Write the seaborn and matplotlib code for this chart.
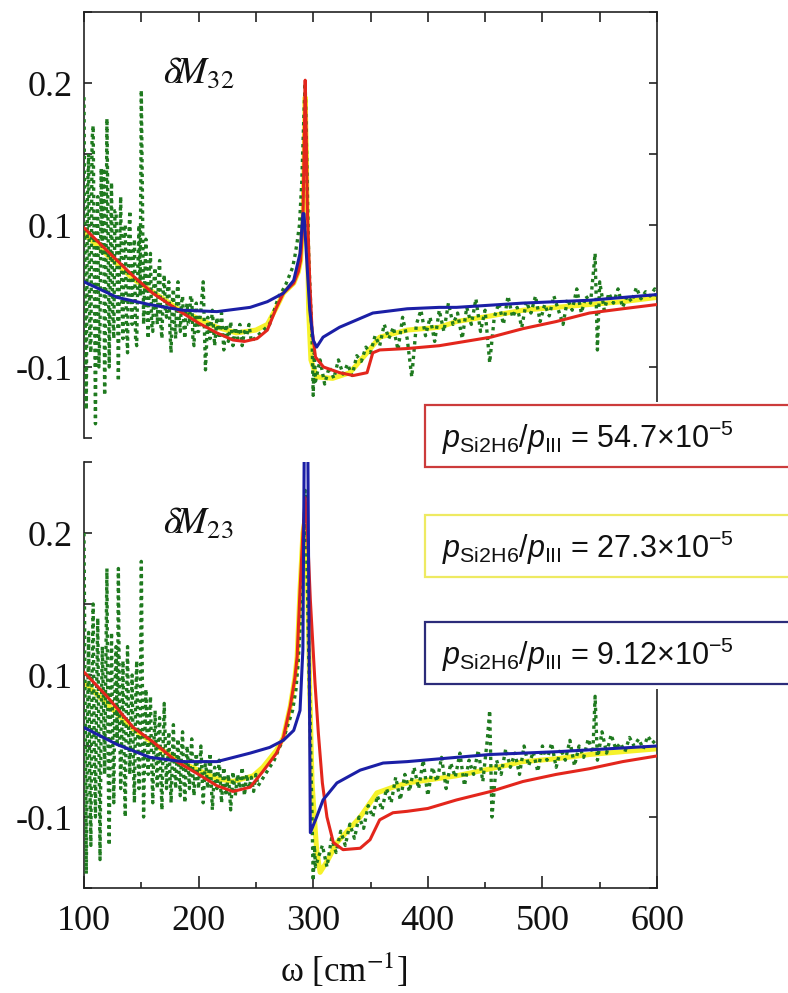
import numpy as np
import pandas as pd
import matplotlib
matplotlib.use("Agg")
import matplotlib.pyplot as plt
import seaborn as sns
from matplotlib.patches import Rectangle
from matplotlib.ticker import FixedLocator, FixedFormatter, MultipleLocator, NullFormatter

# ---------------- data ----------------
# top panel  (dM32)
red_top_x = [100, 120, 143, 160, 184, 200, 216, 230, 240, 251, 260, 268, 274, 283, 287, 289, 291, 292, 293, 294, 295, 297, 299, 302, 309, 323, 335, 347, 352, 358, 382, 410, 425, 455, 483, 512, 541, 570, 600]
red_top_y = [0.098, 0.082, 0.064, 0.052, 0.039, 0.031, 0.024, 0.019, 0.018, 0.020, 0.026, 0.042, 0.052, 0.059, 0.067, 0.075, 0.100, 0.150, 0.202, 0.160, 0.108, 0.060, 0.026, 0.007, 0.000, -0.004, -0.006, -0.004, 0.010, 0.012, 0.013, 0.015, 0.017, 0.021, 0.027, 0.032, 0.038, 0.041, 0.044]

yel_top_x = [100, 143, 184, 216, 233, 250, 260, 268, 274, 283, 287, 289, 291, 292, 293, 294, 295, 296, 298, 303, 317, 332, 347, 358, 382, 410, 425, 455, 483, 512, 541, 570, 600]
yel_top_y = [0.094, 0.062, 0.040, 0.028, 0.024, 0.026, 0.030, 0.042, 0.052, 0.059, 0.067, 0.075, 0.100, 0.140, 0.190, 0.150, 0.090, 0.040, 0.005, -0.007, -0.008, -0.004, 0.010, 0.021, 0.026, 0.028, 0.032, 0.036, 0.040, 0.042, 0.044, 0.046, 0.049]

blu_top_x = [100, 129, 157, 186, 216, 245, 260, 274, 283, 288.5, 291, 292, 294, 297, 300, 303, 308.6, 323, 352, 382, 410, 425, 483, 541, 600]
blu_top_y = [0.060, 0.049, 0.044, 0.040, 0.039, 0.042, 0.046, 0.052, 0.061, 0.080, 0.108, 0.108, 0.080, 0.040, 0.019, 0.014, 0.021, 0.028, 0.038, 0.041, 0.042, 0.042, 0.045, 0.047, 0.051]

grn_top_x = list(range(100, 200)) + [
             200, 202, 204, 206, 208, 210, 212, 214, 216, 218,
             220, 222, 224, 226, 228, 230, 232, 234, 236, 238, 240, 242, 244, 246,
             262, 264, 266, 268, 270, 272, 274, 276, 278, 280, 282, 284, 286, 288, 290, 292, 293, 294, 295, 296,
             297, 298, 299, 300, 301,
             302, 306, 310, 314, 318, 322, 326, 330, 334, 338, 342, 346, 350, 354, 358, 362, 366, 370, 374, 378,
             382, 386, 390, 394, 398, 402, 406, 410, 414, 418, 422, 426, 430, 434, 438, 442, 446, 450, 454, 458,
             462, 466, 470, 474, 478, 482, 486, 490, 494, 498, 502, 506, 510, 514, 518, 522, 526, 530, 534, 538,
             542, 546, 548, 550, 554, 558, 562, 566, 570, 574, 578, 582, 586, 590, 594, 598, 600]
grn_top_y = [0.190, 0.050, -0.030, 0.120, 0.150, 0.020, 0.010, 0.160, 0.170, 0.060,
             -0.040, 0.090, 0.120, 0.000, 0.030, 0.140, 0.080, 0.140, -0.020, 0.050,
             0.175, 0.100, 0.000, 0.070, 0.130, 0.040, 0.020, 0.110, 0.110, 0.060,
             -0.010, 0.080, 0.120, 0.050, 0.020, 0.100, 0.100, 0.030, 0.010, 0.090,
             0.110, 0.060, 0.030, 0.080, 0.090, 0.020, 0.015, 0.070, 0.100, 0.050,
             0.195, 0.120, 0.030, 0.060, 0.090, 0.040, 0.020, 0.070, 0.080, 0.030,
             0.025, 0.060, 0.070, 0.040, 0.030, 0.065, 0.075, 0.030, 0.020, 0.050,
             0.065, 0.040, 0.035, 0.055, 0.060, 0.025, 0.010, 0.045, 0.055, 0.030,
             0.020, 0.050, 0.060, 0.035, 0.025, 0.045, 0.050, 0.030, 0.020, 0.040,
             0.045, 0.030, 0.030, 0.050, 0.050, 0.020, 0.015, 0.040, 0.045, 0.025,
             0.025, 0.040, 0.060, -0.002, 0.035, 0.020, 0.040, 0.015, 0.035, 0.020,
             0.038, 0.012, 0.030, 0.018, 0.032, 0.015, 0.028, 0.020, 0.030, 0.015, 0.025, 0.022, 0.030, 0.018,
             0.030, 0.036, 0.040, 0.045, 0.050, 0.052, 0.055, 0.058, 0.062, 0.066, 0.070, 0.078, 0.088, 0.100, 0.130, 0.180, 0.200, 0.160, 0.120, 0.080,
             0.060, 0.040, 0.020, -0.020, 0.010,
             -0.010, 0.005, -0.012, 0.000, -0.008, 0.005, -0.005, 0.002, -0.006, 0.008, 0.004, 0.014, 0.010, 0.022, 0.015, 0.030, 0.020, 0.028, 0.012, 0.035,
             0.020, -0.007, 0.030, 0.040, 0.022, 0.035, 0.018, 0.040, 0.025, 0.045, 0.030, 0.038, 0.020, 0.042, 0.030, 0.048, 0.025, 0.040, 0.003, 0.035,
             0.045, 0.030, 0.050, 0.035, 0.042, 0.028, 0.046, 0.038, 0.050, 0.032, 0.044, 0.036, 0.050, 0.040, 0.030, 0.048, 0.040, 0.055, 0.038, 0.050,
             0.045, 0.080, 0.012, 0.060, 0.040, 0.052, 0.045, 0.055, 0.042, 0.050, 0.046, 0.056, 0.048, 0.053, 0.050, 0.055, 0.048]

# bottom panel (dM23)
red_bot_x = [100, 120, 143, 160, 181, 200, 216, 230, 245, 256, 268, 274, 280, 284, 286, 288.5, 291, 293, 295, 297.5, 301.6, 304.5, 308, 312, 317.6, 326, 341, 349.6, 358, 369.6, 382, 400, 425, 455, 483, 512, 541, 570, 600]
red_bot_y = [0.102, 0.085, 0.063, 0.053, 0.039, 0.030, 0.022, 0.018, 0.021, 0.032, 0.045, 0.056, 0.078, 0.098, 0.113, 0.160, 0.200, 0.225, 0.200, 0.153, 0.094, 0.059, 0.024, 0.000, -0.018, -0.023, -0.022, -0.016, -0.002, 0.003, 0.004, 0.006, 0.012, 0.018, 0.025, 0.030, 0.034, 0.039, 0.043]

yel_bot_x = [100, 143, 181, 216, 230, 247.6, 256, 268, 274, 280, 284, 286, 288.5, 291, 293, 295, 297, 299, 303, 306, 313, 320.7, 341, 355.6, 369.6, 382, 400, 425, 455, 483, 512, 541, 570, 600]
yel_bot_y = [0.095, 0.062, 0.040, 0.027, 0.025, 0.029, 0.035, 0.047, 0.056, 0.078, 0.098, 0.113, 0.160, 0.200, 0.210, 0.170, 0.090, 0.024, -0.023, -0.039, -0.030, -0.018, 0.000, 0.017, 0.021, 0.024, 0.026, 0.029, 0.034, 0.039, 0.041, 0.044, 0.046, 0.048]

blu_bot_x = [100, 129, 157.6, 186, 216, 245, 262, 274, 283, 288.5, 291, 292.5, 295, 297.5, 303, 308.6, 320.7, 341, 361, 382, 425, 454, 513, 600]
blu_bot_y = [0.063, 0.051, 0.042, 0.039, 0.039, 0.045, 0.049, 0.054, 0.061, 0.075, 0.118, 0.300, 0.300, -0.011, 0.000, 0.012, 0.024, 0.033, 0.038, 0.039, 0.042, 0.044, 0.046, 0.050]

grn_bot_x = list(range(100, 200)) + [
             200, 202, 204, 206, 208, 210, 212, 214, 216, 218,
             220, 222, 224, 226, 228, 230, 232, 234, 236, 238, 240, 242, 244, 246, 248, 250, 252,
             262, 266, 270, 274, 278, 282, 285, 287, 289, 291, 292, 293, 294, 295, 296, 297, 298, 299, 300, 301, 302,
             304, 308, 312, 316, 320, 324, 328, 332, 336, 340, 344, 348, 352, 356, 360, 364, 368, 372, 376, 380,
             384, 388, 392, 396, 400, 404, 408, 412, 416, 420, 424, 428, 432, 436, 440, 444, 448, 452, 454, 456,
             460, 464, 468, 472, 476, 480, 484, 488, 492, 496, 500, 504, 508, 512, 516, 520, 524, 528, 532, 536,
             540, 544, 546, 548, 552, 556, 560, 564, 568, 572, 576, 580, 584, 588, 592, 596, 600]
grn_bot_y = [0.200, 0.080, -0.040, 0.060, 0.130, 0.030, -0.020, 0.100, 0.150, 0.040,
             0.000, 0.090, 0.140, 0.050, -0.030, 0.070, 0.120, 0.080, 0.030, 0.100,
             0.175, 0.040, -0.020, 0.080, 0.130, 0.060, 0.010, 0.090, 0.120, 0.050,
             0.175, 0.070, 0.020, 0.060, 0.110, 0.040, 0.000, 0.080, 0.120, 0.060,
             0.030, 0.070, 0.100, 0.040, 0.010, 0.080, 0.110, 0.050, 0.020, 0.060,
             0.180, 0.090, 0.000, 0.050, 0.090, 0.060, 0.030, 0.070, 0.085, 0.040,
             0.010, 0.050, 0.075, 0.040, 0.020, 0.060, 0.070, 0.030, 0.005, 0.050,
             0.080, 0.050, 0.020, 0.040, 0.060, 0.030, 0.010, 0.040, 0.065, 0.035,
             0.020, 0.040, 0.055, 0.030, 0.015, 0.045, 0.060, 0.030, 0.010, 0.035,
             0.050, 0.035, 0.020, 0.040, 0.055, 0.030, 0.015, 0.035, 0.045, 0.030,
             0.020, 0.050, 0.010, 0.040, 0.020, 0.045, 0.005, 0.035, 0.020, 0.040,
             0.010, 0.035, 0.015, 0.030, 0.005, 0.032, 0.015, 0.030, 0.020, 0.035, 0.015, 0.030, 0.020, 0.028, 0.018, 0.030, 0.022,
             0.035, 0.040, 0.048, 0.055, 0.065, 0.075, 0.090, 0.110, 0.140, 0.180, 0.200, 0.230, 0.200, 0.160, 0.120, 0.080, 0.040, 0.000, -0.045, -0.020, -0.035,
             -0.030, -0.020, -0.035, -0.015, -0.025, -0.010, -0.020, -0.005, -0.015, 0.000, -0.008, 0.008, 0.000, 0.015, 0.005, 0.020, 0.010, 0.028, 0.012, 0.030,
             0.018, 0.035, 0.020, 0.040, 0.015, 0.035, 0.025, 0.042, 0.020, 0.038, 0.028, 0.045, 0.022, 0.040, 0.030, 0.047, 0.025, 0.055, 0.075, 0.000,
             0.040, 0.030, 0.048, 0.035, 0.045, 0.030, 0.050, 0.036, 0.046, 0.032, 0.050, 0.040, 0.052, 0.035, 0.048, 0.040, 0.054, 0.036, 0.050, 0.042,
             0.055, 0.045, 0.085, 0.040, 0.060, 0.045, 0.058, 0.048, 0.052, 0.046, 0.056, 0.050, 0.055, 0.048, 0.057, 0.052, 0.055]

panel_labels = [r"$\delta\!M_{\mathit{32}}$", r"$\delta\!M_{\mathit{23}}$"]
legend_values = ["54.7", "27.3", "9.12"]
x_major = [100, 200, 300, 400, 500, 600]
y_ticks = [-0.05, 0.0, 0.05, 0.10, 0.15, 0.20, 0.25]
y_tick_labels = ["", "-0.1", "", "0.1", "", "0.2", ""]

# ---------------- styling ----------------
sns.set_theme(style="white")
plt.rcParams["font.family"] = ["Liberation Serif", "DejaVu Serif"]
plt.rcParams["mathtext.fontset"] = "custom"
plt.rcParams["mathtext.rm"] = "Liberation Sans"
plt.rcParams["mathtext.it"] = "Liberation Sans:italic"
plt.rcParams["mathtext.bf"] = "Liberation Sans:bold"

C_RED = "#e3261c"
C_YEL = "#f6f22a"
C_BLU = "#1b1fa6"
C_GRN = "#1f7a1f"

W, H = 788, 993
fig = plt.figure(figsize=(W / 100, H / 100), dpi=100)
fig.patch.set_facecolor("white")

def fx(px):
    return px / W

def fy(py):
    return 1 - py / H

ax_top = fig.add_axes([fx(84), fy(438), fx(657) - fx(84), (438 - 12) / H])
ax_bot = fig.add_axes([fx(84), fy(888), fx(657) - fx(84), (888 - 462) / H])

panels = [
    (ax_top, red_top_x, red_top_y, yel_top_x, yel_top_y, blu_top_x, blu_top_y, grn_top_x, grn_top_y),
    (ax_bot, red_bot_x, red_bot_y, yel_bot_x, yel_bot_y, blu_bot_x, blu_bot_y, grn_bot_x, grn_bot_y),
]

for i, (ax, rx, ry, yx, yy, bx, by, gx, gy) in enumerate(panels):
    ax.set_facecolor("white")
    sns.lineplot(x=yx, y=yy, ax=ax, color=C_YEL, lw=3.6, sort=False, estimator=None, zorder=2)
    g = sns.lineplot(x=gx, y=gy, ax=ax, color=C_GRN, lw=2.4, sort=False, estimator=None, zorder=3)
    g.lines[-1].set_linestyle((0, (1, 1.2)))
    g.lines[-1].set_dash_capstyle("butt")
    sns.lineplot(x=rx, y=ry, ax=ax, color=C_RED, lw=2.2, sort=False, estimator=None, zorder=4)
    sns.lineplot(x=bx, y=by, ax=ax, color=C_BLU, lw=2.2, sort=False, estimator=None, zorder=5)

    ax.set_xlim(100, 600)
    ax.set_ylim(-0.05, 0.25)
    ax.set_xlabel("")
    ax.set_ylabel("")
    for s in ax.spines.values():
        s.set_color("#222222")
        s.set_linewidth(1.2)

    ax.yaxis.set_major_locator(FixedLocator(y_ticks))
    ax.yaxis.set_major_formatter(FixedFormatter(y_tick_labels))
    ax.tick_params(axis="y", which="major", direction="in", left=True, right=True,
                   length=6, width=1.2, color="#222222", labelsize=26, pad=8, labelcolor="#111111")

    ax.text(169, 0.2, panel_labels[i], fontsize=27, math_fontfamily="stix",
            ha="left", va="baseline", color="#111111", zorder=6)

# top panel: no bottom spine, ticks on top
ax_top.spines["bottom"].set_visible(False)
ax_top.xaxis.set_major_locator(MultipleLocator(50))
ax_top.xaxis.set_major_formatter(NullFormatter())
ax_top.tick_params(axis="x", which="major", direction="in", top=True, bottom=False,
                   labeltop=False, labelbottom=False, length=7, width=1.2, color="#222222")

# bottom panel: no top spine, labelled bottom ticks
ax_bot.spines["top"].set_visible(False)
ax_bot.xaxis.set_major_locator(FixedLocator(x_major))
ax_bot.xaxis.set_major_formatter(FixedFormatter([str(v) for v in x_major]))
ax_bot.xaxis.set_minor_locator(FixedLocator([150, 250, 350, 450, 550]))
ax_bot.tick_params(axis="x", which="major", direction="in", top=False, bottom=True,
                   length=9, width=1.2, color="#222222", labelsize=26, pad=12, labelcolor="#111111")
ax_bot.tick_params(axis="x", which="minor", direction="in", top=False, bottom=True,
                   length=4.5, width=1.2, color="#222222")

fig.text(fx(344), fy(982), "ω [cm$^{-1}$]", fontsize=25, math_fontfamily="stix",
         ha="center", va="baseline", color="#111111")

# legend region: white cover plus three framed labels
fig.add_artist(Rectangle((fx(424), fy(689)), 1.0, (689 - 402) / H, transform=fig.transFigure,
                         facecolor="white", edgecolor="none", zorder=10))
box_tops = [405, 515, 622]
box_cols = ["#cc3b3b", "#eeea62", "#2c2c7a"]
for top, col, val in zip(box_tops, box_cols, legend_values):
    fig.add_artist(Rectangle((fx(425), fy(top + 62)), 1.0, 62 / H, transform=fig.transFigure,
                             facecolor="white", edgecolor=col, lw=1.6, zorder=11))
    fig.text(fx(442), fy(top + 33),
             r"$p_{\mathrm{Si2H6}}/p_{\mathrm{III}}$" + " = " + val + "×10" + r"$^{\mathrm{-5}}$",
             fontsize=22, family="Liberation Sans", math_fontfamily="custom",
             ha="left", va="center", color="#111111", zorder=12)

fig.savefig("out.png", dpi=100, facecolor="white")
